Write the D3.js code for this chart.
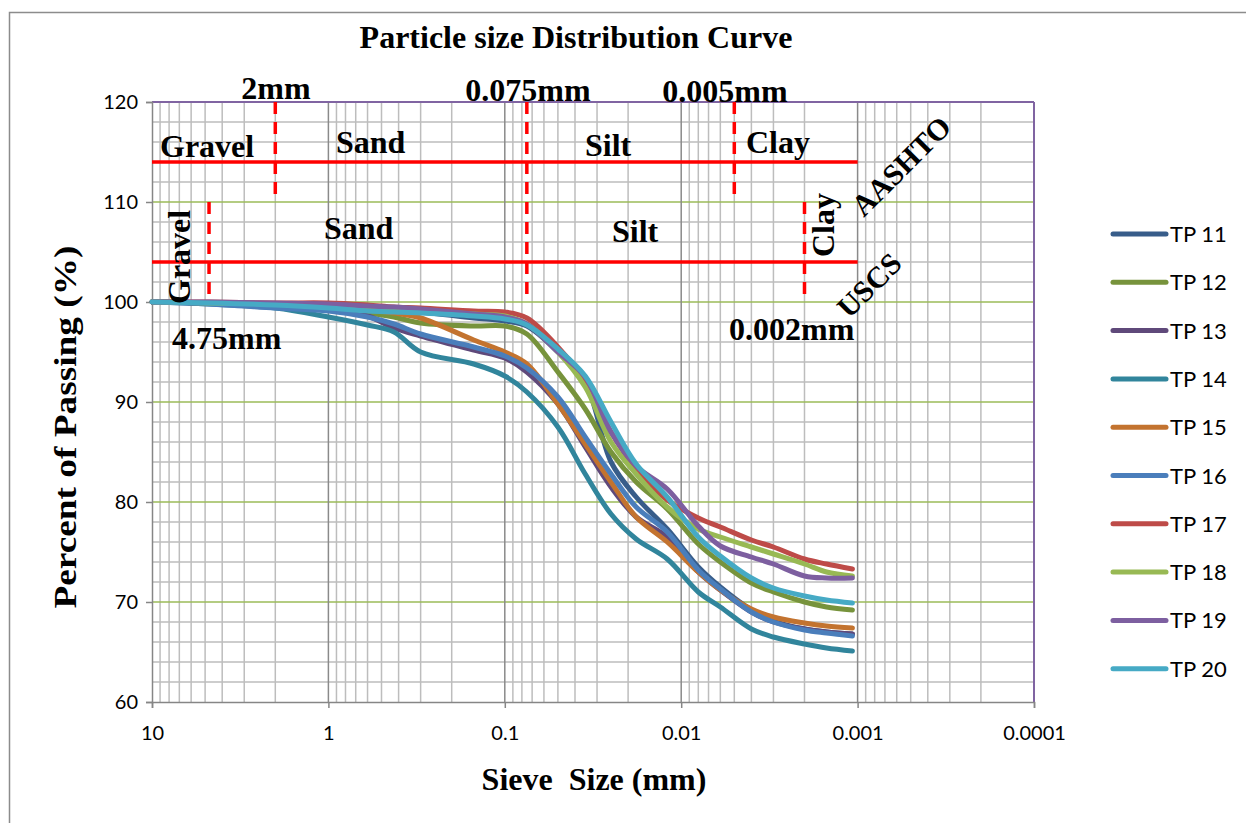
<!DOCTYPE html>
<html>
<head>
<meta charset="utf-8">
<script src="https://cdn.jsdelivr.net/npm/d3@7.9.0/dist/d3.min.js"></script>
<style>
  body { margin: 0; background: #fff; }
  svg { display: block; }
  .serif { font-family: "Liberation Serif", "Times New Roman", serif; font-weight: bold; fill: #000; }
  .sans { font-family: Lato, "Liberation Sans", sans-serif; fill: #000; }
</style>
</head>
<body>
<svg id="chart" width="1246" height="823"></svg>
<script>
// sieve sizes (mm) at which the curves were read
const sizes = [10, 4.75, 2, 1, 0.6, 0.425, 0.3, 0.15, 0.1, 0.075, 0.05, 0.035, 0.025, 0.018, 0.012, 0.008, 0.006, 0.004, 0.003, 0.002, 0.0015, 0.00107];

const seriesNames = ["TP 11", "TP 12", "TP 13", "TP 14", "TP 15", "TP 16", "TP 17", "TP 18", "TP 19", "TP 20"];
const seriesColors = ["#385D8A", "#77933C", "#5F497A", "#31859C", "#C3732F", "#4A7EBB", "#BE4B48", "#98B954", "#7D5FA0", "#46AAC5"];

const tp11 = [100, 99.9, 99.8, 99.5, 99.3, 99.2, 99.0, 98.4, 98.1, 97.6, 95.0, 92.0, 84.0, 80.5, 77.3, 73.5, 71.5, 69.2, 68.1, 67.3, 67.0, 66.8];
const tp12 = [100, 99.9, 99.7, 99.3, 98.9, 98.5, 97.9, 97.6, 97.6, 96.8, 93.0, 89.3, 85.0, 82.0, 79.3, 75.8, 74.0, 71.9, 71.0, 70.0, 69.5, 69.2];
const tp13 = [100, 99.9, 99.6, 99.2, 98.6, 97.4, 96.6, 95.2, 94.4, 93.0, 89.8, 85.5, 81.5, 78.5, 76.5, 73.0, 71.2, 69.0, 68.0, 67.3, 67.0, 66.8];
const tp14 = [100, 99.8, 99.4, 98.5, 97.7, 97.0, 95.0, 93.8, 92.6, 91.0, 87.5, 82.8, 78.8, 76.3, 74.3, 71.0, 69.5, 67.3, 66.5, 65.8, 65.4, 65.1];
const tp15 = [100, 99.9, 99.7, 99.5, 99.2, 98.9, 98.4, 96.2, 95.0, 93.8, 89.8, 85.8, 82.0, 78.5, 76.0, 73.0, 71.2, 69.3, 68.5, 67.9, 67.6, 67.4];
const tp16 = [100, 99.8, 99.4, 99.1, 98.5, 97.8, 96.8, 95.5, 94.6, 93.4, 90.5, 86.5, 82.8, 79.5, 77.0, 73.2, 71.3, 69.0, 68.0, 67.2, 66.9, 66.6];
const tp17 = [100, 100, 99.9, 99.9, 99.7, 99.5, 99.4, 99.1, 99.0, 98.4, 95.5, 92.0, 87.0, 83.3, 80.2, 78.4, 77.5, 76.2, 75.5, 74.3, 73.8, 73.3];
const tp18 = [100, 99.9, 99.8, 99.6, 99.4, 99.2, 99.1, 98.8, 98.6, 97.8, 95.0, 91.5, 86.0, 82.8, 79.5, 77.3, 76.5, 75.5, 74.8, 73.8, 73.0, 72.6];
const tp19 = [100, 100, 99.9, 99.8, 99.6, 99.5, 99.3, 98.8, 98.5, 97.8, 95.0, 92.5, 87.0, 83.6, 81.3, 77.6, 75.6, 74.5, 73.8, 72.6, 72.4, 72.4];
const tp20 = [100, 99.9, 99.7, 99.4, 99.1, 99.0, 98.9, 98.6, 98.3, 97.7, 95.3, 92.6, 88.0, 83.8, 80.5, 76.5, 74.6, 72.4, 71.4, 70.6, 70.2, 69.9];
const seriesValues = [tp11, tp12, tp13, tp14, tp15, tp16, tp17, tp18, tp19, tp20];

const xTicks = [10, 1, 0.1, 0.01, 0.001, 0.0001];
const xTickLabels = ["10", "1", "0.1", "0.01", "0.001", "0.0001"];
const yTicks = [60, 70, 80, 90, 100, 110, 120];

// classification boundaries
const aashtoLevel = 114, uscsLevel = 104;
const aashtoBounds = [2, 0.075, 0.005];
const uscsBounds = [4.75, 0.075, 0.002];

const svg = d3.select("#chart");
const plotL = 152, plotR = 1034, plotT = 102, plotB = 702;

const x = d3.scaleLog().domain([10, 0.0001]).range([plotL, plotR]);
const y = d3.scaleLinear().domain([60, 120]).range([plotB, plotT]);

// outer frame
svg.append("rect").attr("x", 9.5).attr("y", 12.5).attr("width", 1250).attr("height", 820)
  .attr("fill", "none").attr("stroke", "#8c8c8c").attr("stroke-width", 1.5);

const grid = svg.append("g");

// horizontal minor grid (every 2 %)
d3.range(62, 120, 2).filter(v => v % 10 !== 0).forEach(v => {
  grid.append("line").attr("x1", plotL).attr("x2", plotR).attr("y1", y(v)).attr("y2", y(v))
    .attr("stroke", "#bdbdbd").attr("stroke-width", 1.5);
});
// vertical minor grid
const minorX = [];
for (let e = 1; e >= -3; e--) for (let k = 2; k <= 9; k++) minorX.push(k * Math.pow(10, e - 1));
minorX.forEach(v => {
  grid.append("line").attr("x1", x(v)).attr("x2", x(v)).attr("y1", plotT).attr("y2", plotB)
    .attr("stroke", "#bdbdbd").attr("stroke-width", 1.5);
});
// major horizontal grid (green)
[70, 80, 90, 100, 110].forEach(v => {
  grid.append("line").attr("x1", plotL).attr("x2", plotR).attr("y1", y(v)).attr("y2", y(v))
    .attr("stroke", "#9BBB59").attr("stroke-width", 1.5);
});
// major vertical grid
xTicks.slice(1, -1).forEach(v => {
  grid.append("line").attr("x1", x(v)).attr("x2", x(v)).attr("y1", plotT).attr("y2", plotB)
    .attr("stroke", "#8a8a8a").attr("stroke-width", 1.5);
});

// plot border: purple top/right, gray axes
svg.append("line").attr("x1", plotL).attr("x2", plotR).attr("y1", plotT).attr("y2", plotT)
  .attr("stroke", "#8064A2").attr("stroke-width", 2);
svg.append("line").attr("x1", plotR).attr("x2", plotR).attr("y1", plotT).attr("y2", plotB)
  .attr("stroke", "#8064A2").attr("stroke-width", 2);

const yAxis = svg.append("g").attr("transform", `translate(${plotL},0)`)
  .call(d3.axisLeft(y).tickValues(yTicks).tickSize(6).tickFormat(d3.format("d")));
const xAxis = svg.append("g").attr("transform", `translate(0,${plotB})`)
  .call(d3.axisBottom(x).tickValues(xTicks).tickSize(6).tickFormat((d, i) => xTickLabels[i]));
[xAxis, yAxis].forEach(a => {
  a.select(".domain").attr("stroke", "#868686").attr("stroke-width", 1.5);
  a.selectAll(".tick line").attr("stroke", "#868686").attr("stroke-width", 1.5);
  a.selectAll(".tick text").attr("class", "sans").attr("font-size", 20).attr("fill", "#000");
});
yAxis.selectAll(".tick text").attr("x", -14);
xAxis.selectAll(".tick text").attr("y", 24);

// classification lines
const red = "#FF0000";
[aashtoLevel, uscsLevel].forEach(v => {
  svg.append("line").attr("x1", plotL).attr("x2", x(0.001)).attr("y1", y(v)).attr("y2", y(v))
    .attr("stroke", red).attr("stroke-width", 3.5);
});
aashtoBounds.forEach(b => {
  const y2 = b === 0.075 ? y(100) : y(110);
  svg.append("line").attr("x1", x(b)).attr("x2", x(b)).attr("y1", plotT).attr("y2", y2)
    .attr("stroke", red).attr("stroke-width", 3.5).attr("stroke-dasharray", "12 8");
});
uscsBounds.filter(b => b !== 0.075).forEach(b => {
  svg.append("line").attr("x1", x(b)).attr("x2", x(b)).attr("y1", y(110)).attr("y2", y(100))
    .attr("stroke", red).attr("stroke-width", 3.5).attr("stroke-dasharray", "12 8");
});

// curves
const line = d3.line().x(d => x(d[0])).y(d => y(d[1])).curve(d3.curveCatmullRom.alpha(0.5));
seriesValues.forEach((vals, i) => {
  svg.append("path").datum(sizes.map((s, j) => [s, vals[j]]))
    .attr("d", line).attr("fill", "none").attr("stroke", seriesColors[i])
    .attr("stroke-width", 5).attr("stroke-linecap", "round").attr("stroke-linejoin", "round");
});

// legend
seriesNames.forEach((n, i) => {
  const ly = 234 + i * 48.3;
  svg.append("line").attr("x1", 1113).attr("x2", 1166).attr("y1", ly).attr("y2", ly)
    .attr("stroke", seriesColors[i]).attr("stroke-width", 5).attr("stroke-linecap", "round");
  svg.append("text").attr("class", "sans").attr("x", 1170).attr("y", ly + 8).attr("font-size", 22).text(n);
});

// texts
const label = (t, xx, yy, opts = {}) => {
  const el = svg.append("text").attr("class", "serif").attr("x", xx).attr("y", yy)
    .attr("font-size", opts.size || 32).attr("text-anchor", opts.anchor || "start").text(t);
  if (opts.rotate) el.attr("transform", `rotate(${opts.rotate},${xx},${yy})`);
  if (opts.baseline) el.attr("dominant-baseline", opts.baseline);
  return el;
};
label("Particle size Distribution Curve", 576, 48, { anchor: "middle", size: 32 });
label("2mm", 276, 99, { anchor: "middle" });
label("0.075mm", 528, 101, { anchor: "middle" });
label("0.005mm", 725, 102, { anchor: "middle" });
label("Gravel", 160, 157);
label("Sand", 336, 153);
label("Silt", 585, 156);
label("Clay", 746, 153);
label("Sand", 324, 239);
label("Silt", 612, 242);
label("Gravel", 190, 304, { rotate: -90 });
label("Clay", 834, 257, { rotate: -90 });
label("4.75mm", 172, 349);
label("0.002mm", 729, 340);
label("AASHTO", 901, 166, { rotate: -45, anchor: "middle", baseline: "central", size: 30 });
label("USCS", 869, 285, { rotate: -45, anchor: "middle", baseline: "central", size: 30 });

// axis titles
label("Percent of Passing (%)", 76, 427, { rotate: -90, anchor: "middle", size: 31 })
  .attr("textLength", 363).attr("lengthAdjust", "spacingAndGlyphs");
label("Sieve\u00a0 Size (mm)", 594, 790, { anchor: "middle", size: 32 });
</script>
</body>
</html>
